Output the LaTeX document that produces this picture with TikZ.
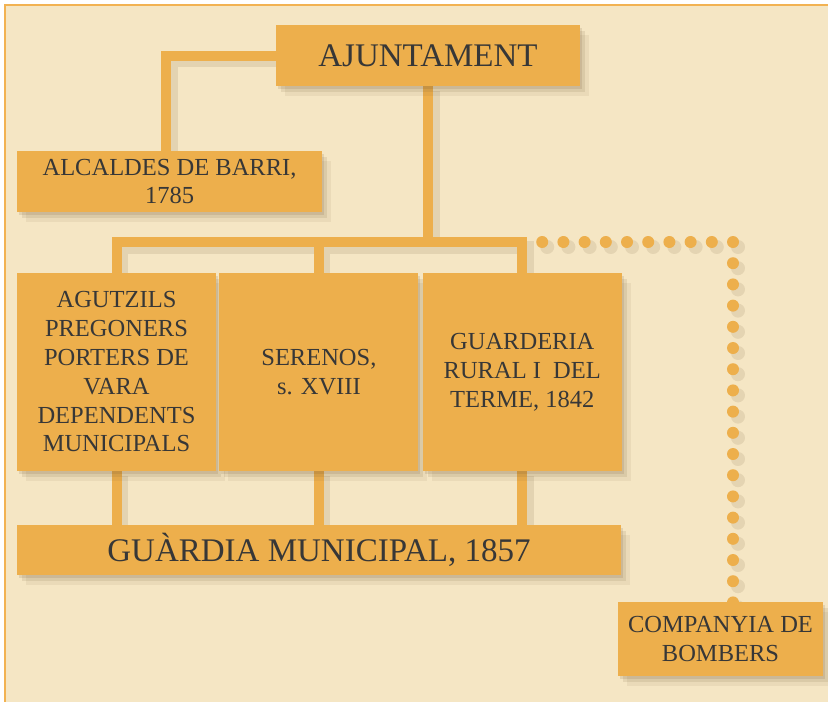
\documentclass[tikz,border=0pt]{standalone}
\usepackage{fontspec}
\setmainfont{Liberation Serif}
\usetikzlibrary{positioning,shadows,backgrounds}

\definecolor{paper}{RGB}{245,230,196}
\definecolor{ochre}{RGB}{237,175,76}
\definecolor{inkgrey}{RGB}{55,55,55}
\definecolor{rim}{RGB}{242,178,82}
\definecolor{shade}{RGB}{110,85,50}

\tikzset{
  softshadow/.style={
    drop shadow={shadow xshift=2pt, shadow yshift=-3pt, opacity=.14, fill=shade},
    drop shadow={shadow xshift=5pt, shadow yshift=-6pt, opacity=.12, fill=shade},
    drop shadow={shadow xshift=9pt, shadow yshift=-10pt, opacity=.08, fill=shade}},
  unit/.style={softshadow, fill=ochre, text=inkgrey, inner sep=0pt, align=center,
    font=\fontsize{24.5}{28.8}\selectfont},
  bigunit/.style={unit, font=\fontsize{33}{38}\selectfont},
  link/.style={draw=ochre, line width=10pt, line join=miter,
    preaction={draw=shade, draw opacity=.13, line width=13pt,
      transform canvas={shift={(5pt,-5pt)}}}},
  dotlink/.style={draw=ochre, line width=12pt, line cap=round,
    dash pattern=on 0pt off 21.2pt,
    preaction={draw=shade, draw opacity=.12, line width=14pt, line cap=round,
      dash pattern=on 0pt off 21.2pt,
      transform canvas={shift={(5pt,-5pt)}}}}
}

\begin{document}
\begin{tikzpicture}[x=1pt, y=-1pt]

	\useasboundingbox (0,0) rectangle (828,702);

	% boxes
	\node [bigunit, minimum width=304pt, minimum height=61pt]	(ajunt) at (428,55.5) {AJUNTAMENT};
	\node [unit, minimum width=305pt, minimum height=61pt]		(alcal) at (169.5,181.5) {ALCALDES DE BARRI,\\ 1785};
	\node [unit, minimum width=199pt, minimum height=198pt]		(agut) at (116.5,372) {AGUTZILS\\ PREGONERS\\ PORTERS DE\\ VARA\\ DEPENDENTS\\ MUNICIPALS};
	\node [unit, minimum width=199pt, minimum height=198pt, right=3pt of agut]	(seren) {SERENOS,\\ s. XVIII};
	\node [unit, minimum width=199pt, minimum height=198pt, right=4pt of seren]	(guard) {GUARDERIA\\ RURAL I~~DEL\\ TERME, 1842};
	\node [bigunit, minimum width=604pt, minimum height=50pt]	(gmun) at (319,550) {GUÀRDIA MUNICIPAL, 1857};
	\node [unit, minimum width=205pt, minimum height=74pt]		(bomb) at (720.5,639) {COMPANYIA DE\\ BOMBERS};

	\coordinate (bar) at (ajunt.south |- 0,242);
	\coordinate (dotstart) at (542.2,242);
	\coordinate (dotcorner) at (733,242);

	\begin{pgfonlayer}{background}
		\fill [white] (0,0) rectangle (828,702);
		\fill [paper] (5,5) rectangle (828,702);
		\draw [rim, line width=1.5pt] (5,702) -- (5,5) -- (828,5);

		% connectors, under the boxes
		\draw [link]	(ajunt.west) -| ([xshift=-3.5pt]alcal.north)
						(ajunt.south) -- (bar)
						(agut.north) |- (bar) -| (guard.north)
						(seren.north |- bar) -- (seren.north)
						(agut.south) -- (agut.south |- gmun.north)
						(seren.south) -- (seren.south |- gmun.north)
						(guard.south) -- (guard.south |- gmun.north);
		\draw [dotlink]	(dotstart) -- (dotcorner) -- (dotcorner |- bomb.center);
	\end{pgfonlayer}

\end{tikzpicture}
\end{document}
